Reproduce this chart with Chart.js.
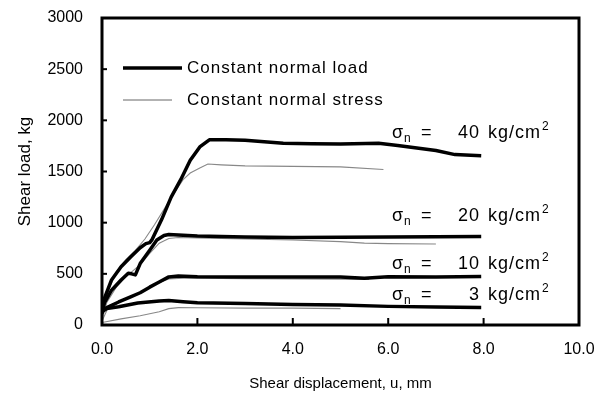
<!DOCTYPE html>
<html>
<head>
<meta charset="utf-8">
<script src="https://cdn.jsdelivr.net/npm/chart.js@4"></script>
<style>
  html, body { margin: 0; padding: 0; background: #fff; }
</style>
</head>
<body>
<canvas id="shearChart" width="609" height="401"></canvas>
<script>
// shear displacement u (mm) vs shear load (kg)
// constant normal load (bold)
const uLoad40 = [0, 0.05, 0.2, 0.4, 0.6, 0.8, 0.92, 1.0, 1.05, 1.25, 1.45, 1.65, 1.85, 2.05, 2.25, 2.6, 3.0, 3.4, 3.8, 4.4, 5.0, 5.8, 6.2, 6.6, 7.0, 7.4, 7.95];
const kgLoad40 = [120, 260, 440, 570, 665, 755, 795, 805, 835, 1030, 1250, 1420, 1610, 1740, 1810, 1810, 1805, 1790, 1775, 1770, 1768, 1775, 1755, 1730, 1705, 1665, 1655];
const uLoad20 = [0, 0.05, 0.2, 0.4, 0.55, 0.62, 0.7, 0.8, 1.0, 1.15, 1.3, 1.4, 1.6, 2.0, 3.0, 4.0, 5.0, 6.0, 7.0, 7.95];
const kgLoad20 = [110, 215, 340, 440, 505, 500, 490, 600, 730, 830, 875, 885, 880, 870, 860, 855, 858, 860, 862, 865];
const uLoad10 = [0, 0.1, 0.35, 0.6, 0.8, 1.0, 1.2, 1.4, 1.6, 2.0, 3.0, 4.0, 5.0, 5.5, 6.0, 7.0, 7.95];
const kgLoad10 = [130, 170, 225, 275, 315, 370, 420, 470, 478, 472, 470, 468, 470, 458, 472, 470, 475];
const uLoad3 = [0, 0.1, 0.35, 0.75, 1.2, 1.4, 1.7, 2.0, 3.0, 4.0, 5.0, 6.0, 7.0, 7.95];
const kgLoad3 = [130, 160, 178, 215, 235, 240, 228, 218, 210, 200, 195, 182, 175, 172];

// constant normal stress (thin)
const uStress40 = [0, 0.1, 0.3, 0.5, 0.7, 0.9, 1.1, 1.3, 1.5, 1.7, 1.85, 2.05, 2.22, 2.5, 3.0, 4.0, 5.0, 5.9];
const kgStress40 = [60, 300, 520, 640, 730, 840, 980, 1130, 1280, 1420, 1485, 1535, 1573, 1565, 1555, 1550, 1545, 1520];
const uStress20 = [0, 0.1, 0.3, 0.5, 0.8, 1.0, 1.2, 1.4, 1.6, 2.0, 3.0, 4.0, 5.0, 5.5, 6.0, 7.0];
const kgStress20 = [50, 220, 370, 470, 590, 700, 800, 845, 855, 850, 840, 830, 815, 800, 795, 792];
const uStress10 = [0, 0.15, 0.5, 0.8, 1.0, 1.2, 1.4, 1.7, 2.0, 3.0, 4.0, 5.0, 5.6];
const kgStress10 = [40, 190, 260, 320, 370, 415, 450, 458, 458, 452, 450, 448, 445];
const uStress3 = [0, 0.4, 0.8, 1.2, 1.4, 1.6, 2.0, 3.0, 4.0, 5.0];
const kgStress3 = [25, 60, 90, 130, 160, 170, 168, 165, 165, 160];

// sigma_n labels, drawn at u = 6.08 with their baseline at these loads
const sigmaValues = ["40", "20", "10", "3"];
const sigmaBaseline = [1830, 1015, 545, 245];

const FONT = '"Liberation Sans", Arial, sans-serif';

function pts(us, vs) {
  return us.map((u, i) => ({ x: u, y: vs[i] }));
}

function bold(us, vs) {
  return { data: pts(us, vs), borderColor: "#000", borderWidth: 3.5, pointRadius: 0, tension: 0, borderJoinStyle: "round" };
}
function thin(us, vs) {
  return { data: pts(us, vs), borderColor: "#888", borderWidth: 1.1, pointRadius: 0, tension: 0 };
}

// box, inner tick marks, legend and sigma labels
const decorations = {
  id: "decorations",
  afterDatasetsDraw(chart) {
    const { ctx, chartArea: a, scales: { x, y } } = chart;
    ctx.save();
    ctx.strokeStyle = "#000";
    ctx.lineWidth = 3;
    ctx.strokeRect(a.left, a.top, a.right - a.left, a.bottom - a.top);

    ctx.lineWidth = 2;
    [2, 4, 6, 8].forEach((v) => {
      const px = x.getPixelForValue(v);
      ctx.beginPath();
      ctx.moveTo(px, a.bottom);
      ctx.lineTo(px, a.bottom - 7);
      ctx.stroke();
    });
    [500, 1000, 1500, 2000, 2500].forEach((v) => {
      const py = y.getPixelForValue(v);
      ctx.beginPath();
      ctx.moveTo(a.left, py);
      ctx.lineTo(a.left + 5, py);
      ctx.stroke();
    });

    // legend
    const lx = a.left + 21;
    ctx.lineWidth = 3.5;
    ctx.beginPath();
    ctx.moveTo(lx, a.top + 50);
    ctx.lineTo(lx + 59, a.top + 50);
    ctx.stroke();
    ctx.strokeStyle = "#666";
    ctx.lineWidth = 1;
    ctx.beginPath();
    ctx.moveTo(lx, a.top + 82);
    ctx.lineTo(lx + 49, a.top + 82);
    ctx.stroke();

    ctx.fillStyle = "#000";
    ctx.font = "17px " + FONT;
    ctx.letterSpacing = "1px";
    ctx.textBaseline = "middle";
    ctx.textAlign = "left";
    ctx.fillText("Constant normal load", lx + 64, a.top + 50);
    ctx.fillText("Constant normal stress", lx + 64, a.top + 82);

    // sigma_n labels
    ctx.textBaseline = "alphabetic";
    const x0 = x.getPixelForValue(6.08);
    sigmaValues.forEach((num, i) => {
      const yb = y.getPixelForValue(sigmaBaseline[i]);
      ctx.font = "18px " + FONT;
      ctx.textAlign = "left";
      ctx.fillText("σ", x0, yb);
      ctx.font = "12px " + FONT;
      ctx.fillText("n", x0 + 12, yb + 4);
      ctx.font = "18px " + FONT;
      ctx.fillText("=", x0 + 29, yb);
      ctx.textAlign = "right";
      ctx.fillText(num, x0 + 88, yb);
      ctx.textAlign = "left";
      ctx.fillText("kg/cm", x0 + 96, yb);
      const w = ctx.measureText("kg/cm").width;
      ctx.font = "12px " + FONT;
      ctx.fillText("2", x0 + 97 + w, yb - 8);
    });
    ctx.restore();
  },
};

const ctx = document.getElementById("shearChart").getContext("2d");
new Chart(ctx, {
  type: "line",
  data: {
    datasets: [
      bold(uLoad40, kgLoad40),
      bold(uLoad20, kgLoad20),
      bold(uLoad10, kgLoad10),
      bold(uLoad3, kgLoad3),
      thin(uStress40, kgStress40),
      thin(uStress20, kgStress20),
      thin(uStress10, kgStress10),
      thin(uStress3, kgStress3),
    ],
  },
  options: {
    responsive: false,
    animation: false,
    devicePixelRatio: 1,
    layout: { padding: { top: 18, right: 30, left: 0, bottom: 0 } },
    plugins: { legend: { display: false }, tooltip: { enabled: false } },
    scales: {
      x: {
        type: "linear",
        min: 0,
        max: 10,
        grid: { display: false, drawTicks: false },
        border: { display: false },
        ticks: {
          stepSize: 2,
          padding: 15,
          color: "#000",
          font: { family: FONT, size: 16 },
          callback: (v) => v.toFixed(1),
        },
        title: {
          display: true,
          text: "Shear displacement, u, mm",
          color: "#000",
          font: { family: FONT, size: 15 },
          padding: { top: 0, bottom: 8 },
        },
        afterFit: (s) => {
          s.height = 76;
          s.paddingLeft = 0;
          s.paddingRight = 0;
        },
      },
      y: {
        min: 0,
        max: 3000,
        grid: { display: false, drawTicks: false },
        border: { display: false },
        ticks: {
          stepSize: 500,
          padding: 19,
          color: "#000",
          font: { family: FONT, size: 16 },
          callback: (v) => String(v),
        },
        title: {
          display: true,
          text: "Shear load, kg",
          color: "#000",
          font: { family: FONT, size: 17 },
          padding: { top: 15, bottom: 0 },
        },
        afterFit: (s) => {
          s.width = 102;
          s.paddingTop = 0;
          s.paddingBottom = 0;
        },
      },
    },
  },
  plugins: [decorations],
});
</script>
</body>
</html>
